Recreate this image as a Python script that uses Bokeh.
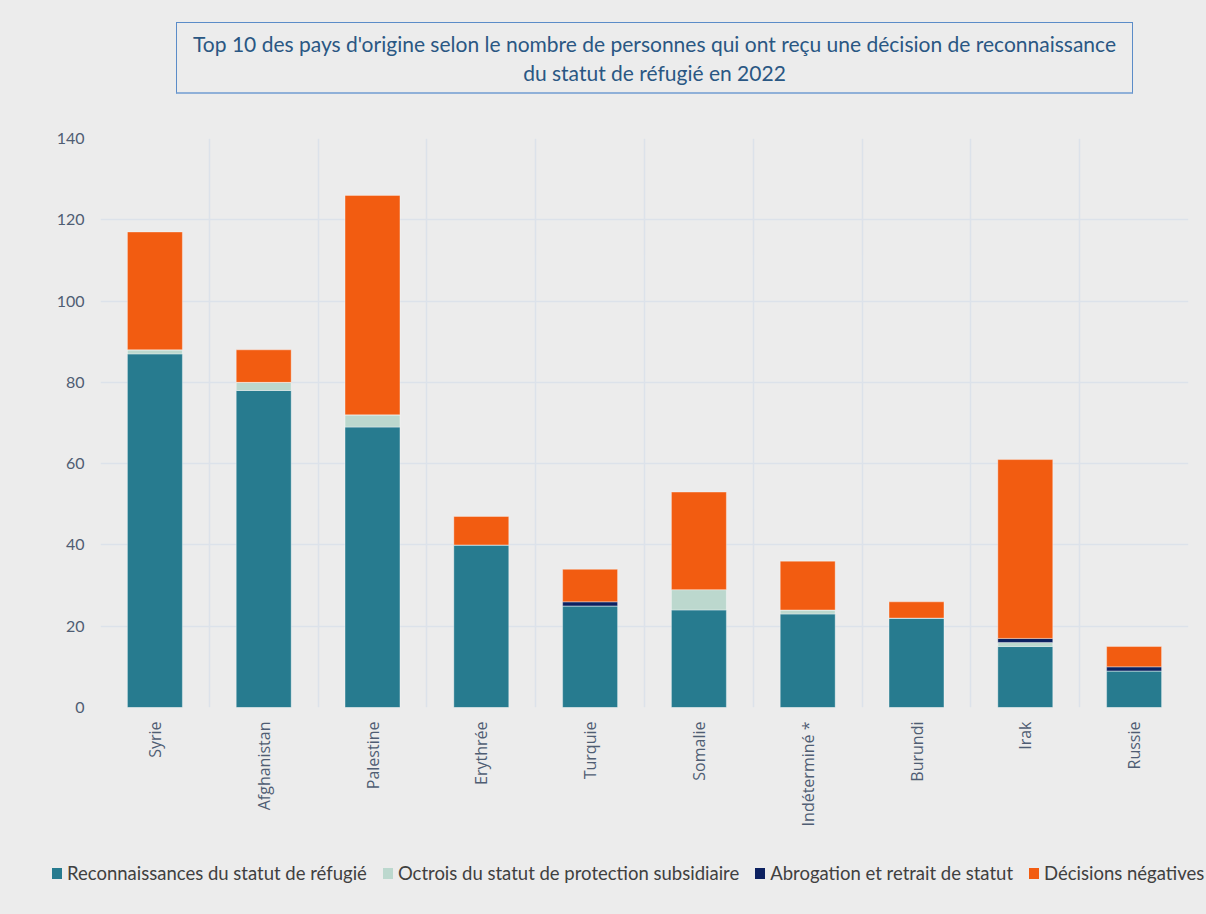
from bokeh.plotting import figure
from bokeh.layouts import column
from bokeh.models import (ColumnDataSource, FactorRange, Range1d, FixedTicker, Div)
from bokeh.embed import file_html
from bokeh.resources import INLINE
from math import pi

countries = ["Syrie", "Afghanistan", "Palestine", "Erythrée", "Turquie",
             "Somalie", "Indéterminé *", "Burundi", "Irak", "Russie"]
reconnaissances = [87, 78, 69, 40, 25, 24, 23, 22, 15, 9]
protection_subsidiaire = [1, 2, 3, 0, 0, 5, 1, 0, 1, 0]
abrogation = [0, 0, 0, 0, 1, 0, 0, 0, 1, 1]
negatives = [29, 8, 54, 7, 8, 24, 12, 4, 44, 5]
y_ticks = [0, 20, 40, 60, 80, 100, 120, 140]

title_lines = ["Top 10 des pays d'origine selon le nombre de personnes qui ont reçu une décision de reconnaissance",
               "du statut de réfugié en 2022"]
series_names = ["Reconnaissances du statut de réfugié",
                "Octrois du statut de protection subsidiaire",
                "Abrogation et retrait de statut",
                "Décisions négatives"]
colors = ["#277b8f", "#bcd8ce", "#0c2160", "#f25c11"]
keys = ["rec", "sub", "abr", "neg"]

source = ColumnDataSource(dict(country=countries, rec=reconnaissances,
                               sub=protection_subsidiaire, abr=abrogation,
                               neg=negatives))

BG = "#ececec"
FONT = "Lato"

p = figure(x_range=FactorRange(*countries, range_padding=0),
           y_range=Range1d(0, 140),
           frame_width=1088, frame_height=569,
           output_backend="svg", toolbar_location=None,
           min_border_left=100, min_border_right=18, min_border_top=44,
           min_border_bottom=133, margin=0)
p.background_fill_color = BG
p.border_fill_color = BG
p.outline_line_color = None

p.vbar_stack(keys, x="country", width=0.505, color=colors,
             line_color="white", line_alpha=0.35, line_width=1,
             source=source)

# axes
p.yaxis.ticker = FixedTicker(ticks=y_ticks)
p.yaxis.axis_line_color = None
p.yaxis.major_tick_line_color = None
p.yaxis.major_tick_out = 0
p.yaxis.minor_tick_line_color = None
p.yaxis.minor_tick_out = 0
p.yaxis.major_label_text_font = FONT
p.yaxis.major_label_text_font_size = "16px"
p.yaxis.major_label_text_color = "#4f5d73"
p.yaxis.major_label_standoff = 16

p.xaxis.axis_line_color = None
p.xaxis.major_tick_line_color = None
p.xaxis.major_tick_out = 0
p.xaxis.major_label_orientation = pi / 2
p.xaxis.major_label_text_font = "Open Sans"
p.xaxis.major_label_text_font_size = "16px"
p.xaxis.major_label_text_color = "#4f5d73"
p.xaxis.major_label_standoff = 14

# grids
p.ygrid.grid_line_color = "#dce2ea"
p.ygrid.grid_line_width = 1.5
p.xgrid.ticker = FixedTicker(ticks=list(range(len(countries) + 1)))
p.xgrid.grid_line_color = "#dce2ea"
p.xgrid.grid_line_width = 1.5

# legend (HTML strip under the chart)
legend_parts = []
for i, (name, c) in enumerate(zip(series_names, colors)):
    ml = "0px" if i == 0 else "16px"
    legend_parts.append(
        f'<span style="display:inline-block;width:10px;height:11px;background:{c};'
        f'margin-left:{ml};margin-right:5px;vertical-align:middle;"></span>'
        f'<span style="vertical-align:middle;">{name}</span>')
legend_div = Div(text="".join(legend_parts), width=1206, height=74, margin=0,
                 styles={"font-family": "Lato", "font-size": "18.5px",
                         "color": "#404040", "white-space": "nowrap",
                         "padding-top": "16px", "padding-left": "52px",
                         "line-height": "30px", "box-sizing": "border-box",
                         "background-color": BG})

# title box
title = Div(text="<br>".join(title_lines), width=957, height=72,
            margin=(22, 0, 0, 176),
            styles={"border": "1px solid #5b8cc8",
                    "border-bottom": "2px solid #8fb0d8",
                    "box-sizing": "border-box",
                    "text-align": "center", "font-family": "Lato",
                    "font-size": "21px", "line-height": "29px",
                    "color": "#2a5783", "background-color": BG,
                    "padding-top": "6px"})

layout = column(title, p, legend_div, spacing=0,
                styles={"background-color": BG})

open("out.html", "w").write(file_html(layout, INLINE))
